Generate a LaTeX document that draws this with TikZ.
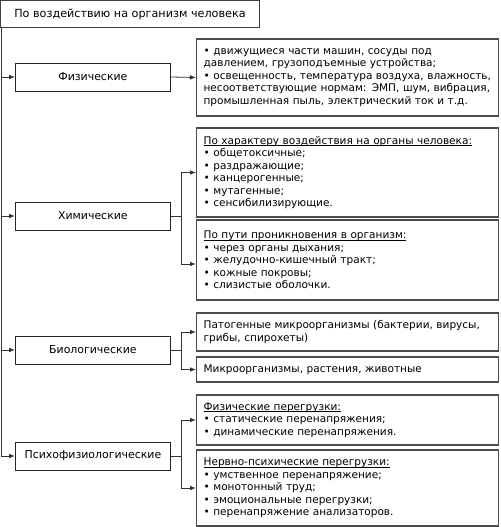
\documentclass[tikz,border=0pt]{standalone}
\usepackage{fontspec}
\setmainfont{DejaVu Sans}
\usetikzlibrary{arrows.meta}
\newcommand\headline[1]{\setbox0\hbox{#1}\rlap{\rule[-1.3pt]{\wd0}{0.4pt}}\box0}

\begin{document}
\begin{tikzpicture}[x=0.75pt,y=-0.75pt,
  head/.style={draw=black!75,line width=0.7pt,minimum width=193.5pt,minimum height=20pt,
    inner sep=0pt,anchor=north west,font=\fontsize{8.4}{10}\selectfont},
  kind/.style={draw=black!85,line width=0.6pt,minimum width=116.25pt,minimum height=21pt,
    inner sep=2pt,anchor=west,font=\fontsize{8.2}{10}\selectfont},
  info/.style={draw=black!70,line width=0.9pt,minimum width=226.5pt,text width=216pt,
    inner xsep=5pt,inner ysep=2pt,align=left,anchor=west,font=\fontsize{7.9}{9.4}\selectfont},
  link/.style={draw=black!80,line width=0.6pt,-{Latex[length=4.5pt,width=3.5pt]}}]
\useasboundingbox (0,0) rectangle (500,527);

\node[head] (title) at (0.5,0.5) {По воздействию на организм человека};

\node[kind] (phys) at (15,77) {Физические};
\node[kind] (chem) at (15,216) {Химические};
\node[kind] (bio) at (15,350) {Биологические};
\node[kind] (psy) at (15,456) {Психофизиологические};

\node[info,minimum height=57.75pt] (physA) at (196,77.5)
  {•~движущиеся части машин, сосуды под\\давлением, грузоподъемные устройства;\\
   •~освещенность, температура воздуха, влажность,\\несоответствующие нормам: ЭМП, шум, вибрация,\\
   промышленная пыль, электрический ток и т.д.};
\node[info,minimum height=66.75pt] (chemA) at (196,172.5)
  {\headline{По характеру воздействия на органы человека:}\\•~общетоксичные;\\•~раздражающие;\\
   •~канцерогенные;\\•~мутагенные;\\•~сенсибилизирующие.};
\node[info,minimum height=60pt] (chemB) at (196,260)
  {\headline{По пути проникновения в организм:}\\•~через органы дыхания;\\
   •~желудочно-кишечный тракт;\\•~кожные покровы;\\•~слизистые оболочки.};
\node[info,minimum height=28.5pt] (bioA) at (196,332)
  {Патогенные микроорганизмы (бактерии, вирусы,\\грибы, спирохеты)};
\node[info,minimum height=18.75pt] (bioB) at (196,369.5)
  {Микроорганизмы, растения, животные};
\node[info,minimum height=37.5pt] (psyA) at (196,420)
  {\headline{Физические перегрузки:}\\•~статические перенапряжения;\\•~динамические перенапряжения.};
\node[info,minimum height=57pt] (psyB) at (196,488)
  {\headline{Нервно-психические перегрузки:}\\•~умственное перенапряжение;\\•~монотонный труд;\\
   •~эмоциональные перегрузки;\\•~перенапряжение анализаторов.};

\coordinate (trunk) at (1.5,27);
\draw[link] (trunk) |- (phys.west);
\draw[link] (trunk) |- (chem.west);
\draw[link] (trunk) |- (bio.west);
\draw[link] (trunk) |- (psy.west);

\draw[link] (phys.east) -- (physA.west);

\draw[draw=black!80,line width=0.6pt] (chem.east) -- ++(10.5,0) coordinate (chemfork);
\draw[link] (chemfork) |- (chemA.west);
\draw[link] (chemfork) |- ([yshift=-3pt]chemB.west);

\draw[draw=black!80,line width=0.6pt] (bio.east) -- ++(10.5,0) coordinate (biofork);
\draw[link] (biofork) |- (bioA.west);
\draw[link] (biofork) |- (bioB.west);

\draw[draw=black!80,line width=0.6pt] (psy.east) -- ++(10.5,0) coordinate (psyfork);
\draw[link] (psyfork) |- (psyA.west);
\draw[link] (psyfork) |- (psyB.west);
\end{tikzpicture}
\end{document}
